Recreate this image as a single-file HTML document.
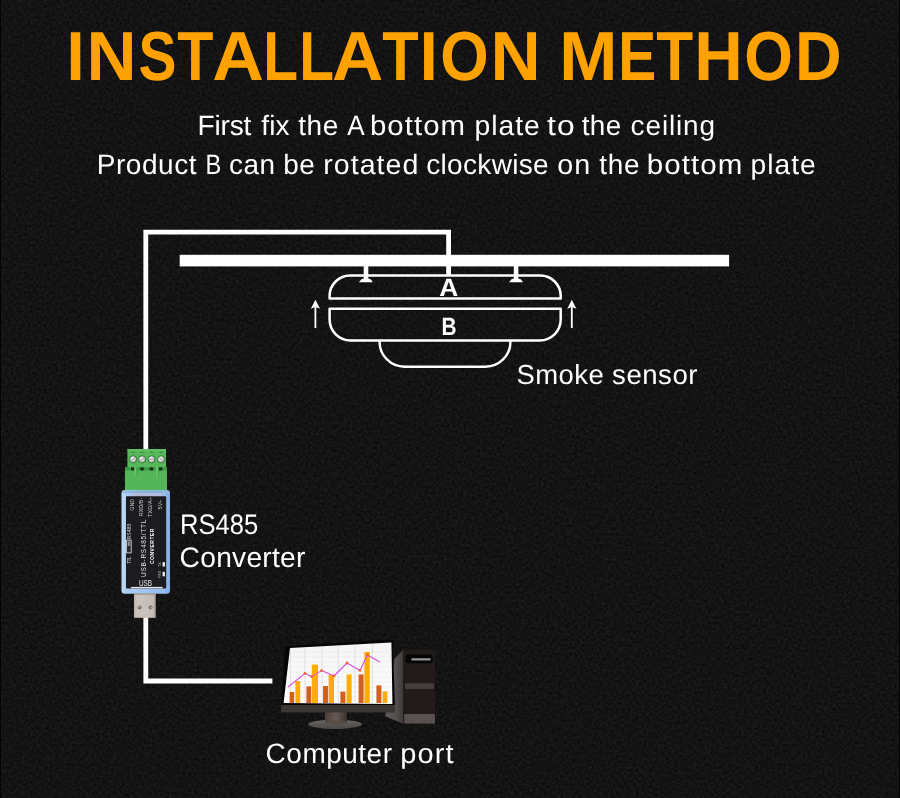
<!DOCTYPE html>
<html>
<head>
<meta charset="utf-8">
<title>Installation Method</title>
<style>
  html, body { margin: 0; padding: 0; }
  body {
    width: 900px; height: 798px; overflow: hidden; position: relative;
    background: #131313;
    font-family: "Liberation Sans", sans-serif;
    color: #ffffff;
  }
  .t {
    position: absolute; white-space: nowrap; margin: 0; padding: 0;
    transform-origin: 0 0;
    will-change: transform;
  }
  #title { left: 0; top: 21.6px; font-size: 69.4px; line-height: 69.4px; font-weight: bold; color: #ffa200; width: 900px; height: 70px; text-rendering: geometricPrecision; }
  #sub1  { left: 0; top: 111.65px; font-size: 28px; line-height: 28px; width: 900px; height: 28px; }
  #sub2  { left: 0; top: 150.8px; font-size: 28px; line-height: 28px; width: 900px; height: 28px; }
  #smoke { left: 0; top: 361.4px; font-size: 27.5px; line-height: 27.5px; width: 900px; height: 28px; }
  #rs    { left: 0; top: 510.3px; font-size: 28.2px; line-height: 28.2px; width: 900px; height: 29px; }
  #conv  { left: 0; top: 543.3px; font-size: 28.2px; line-height: 28.2px; width: 900px; height: 29px; }
  #comp  { left: 0; top: 740.4px; font-size: 28px; line-height: 28px; width: 900px; height: 28px; }
  #la    { left: 0; top: 276px; font-size: 25px; line-height: 25px; font-weight: bold; width: 900px; height: 25px; }
  #lb    { left: 0; top: 315px; font-size: 25px; line-height: 25px; font-weight: bold; width: 900px; height: 25px; }
  .w { position: absolute; left: 0; top: 0; display: block; white-space: nowrap; transform-origin: 0 0; }
  .line { text-rendering: geometricPrecision; }
  svg#art { position: absolute; left: 0; top: 0; will-change: transform; }
</style>
</head>
<body>
<svg id="art" width="900" height="798" viewBox="0 0 900 798">
  <defs>
    <filter id="grain" x="0" y="0" width="100%" height="100%" color-interpolation-filters="sRGB">
      <feTurbulence type="fractalNoise" baseFrequency="0.36" numOctaves="2" seed="7" result="n"/>
      <feColorMatrix type="matrix" values="0.115 0 0 0 0.019  0.115 0 0 0 0.019  0.115 0 0 0 0.019  0 0 0 0 1"/>
    </filter>
  </defs>
  <rect x="0" y="0" width="900" height="798" fill="#131313" filter="url(#grain)"/>
  <rect x="0" y="0" width="1" height="798" fill="#020202"/>
  <rect x="899" y="0" width="1" height="798" fill="#020202"/>
  <!-- wire -->
  <g id="wire" fill="none" stroke="#ffffff" stroke-width="4.8" stroke-linejoin="miter" stroke-linecap="butt">
    <path d="M145.8 450 V232.2 H448.6 V276"/>
    <path d="M145.8 617 V681 H272.4"/>
  </g>
  <!-- ceiling -->
  <rect id="ceiling" x="179.7" y="254.8" width="549.4" height="11.6" fill="#ffffff"/>
  <!-- SENSOR -->
  <g id="sensor">
    <g fill="none" stroke="#ffffff" stroke-width="2.5" stroke-linejoin="round">
      <!-- plate A -->
      <path d="M329.6 298.4 V296 A20.5 20.5 0 0 1 350.1 275.5 H540.2 A20.5 20.5 0 0 1 560.7 296 V298.4 Z"/>
      <!-- plate B -->
      <path d="M329.6 308.7 H560.7 V319.5 A21 21 0 0 1 539.7 340.5 H350.6 A21 21 0 0 1 329.6 319.5 Z"/>
      <!-- dome -->
      <path d="M379.6 341 V342 A25 24.7 0 0 0 404.6 366.7 H485.4 A25 24.7 0 0 0 510.4 342 V341" stroke-width="2.4"/>
    </g>
    <!-- screws -->
    <g fill="#ffffff">
      <rect x="363.7" y="266" width="4.6" height="13.5"/>
      <path d="M358.9 282.3 L360.6 280.2 Q361.6 278.8 363.2 278.8 H368.8 Q370.4 278.8 371.4 280.2 L372.9 282.3 Z"/>
      <rect x="513.8" y="266" width="4.6" height="13.5"/>
      <path d="M509 282.3 L510.7 280.2 Q511.7 278.8 513.3 278.8 H518.9 Q520.5 278.8 521.5 280.2 L523.2 282.3 Z"/>
      <!-- arrows -->
      <path d="M315.4 299.7 L320 308.8 L316.3 307.2 V328 H314.5 V307.2 L310.8 308.8 Z"/>
      <path d="M571.8 299.7 L576.4 308.8 L572.7 307.2 V328 H570.9 V307.2 L567.2 308.8 Z"/>
    </g>
  </g>
  <!-- CONVERTER -->
  <g id="converter">
    <defs>
      <linearGradient id="caseG" x1="0" y1="0" x2="1" y2="0">
        <stop offset="0" stop-color="#c2daf6"/>
        <stop offset="0.1" stop-color="#acccf2"/>
        <stop offset="0.88" stop-color="#95bbee"/>
        <stop offset="1" stop-color="#84abe2"/>
      </linearGradient>
      <radialGradient id="scr" cx="0.4" cy="0.4" r="0.7">
        <stop offset="0" stop-color="#f6f6f6"/>
        <stop offset="0.55" stop-color="#cfcfcf"/>
        <stop offset="1" stop-color="#8c8c8c"/>
      </radialGradient>
      <linearGradient id="usbG" x1="0" y1="0" x2="1" y2="0">
        <stop offset="0" stop-color="#b9b0a9"/>
        <stop offset="0.15" stop-color="#cbc3bc"/>
        <stop offset="0.85" stop-color="#c6bdb6"/>
        <stop offset="1" stop-color="#aaa29b"/>
      </linearGradient>
    </defs>
    <!-- green terminal: upper block -->
    <rect x="127.4" y="449.2" width="38.6" height="18.6" fill="#57b85b"/>
    <rect x="127.4" y="449.2" width="38.6" height="1.2" fill="#6cc870"/>
    <!-- lower block -->
    <rect x="125" y="467.4" width="42" height="22.8" fill="#55b659"/>
    <rect x="125" y="467.4" width="42" height="3.2" fill="#3f9a45"/>
    <!-- wire holes -->
    <g fill="#16301a">
      <rect x="131" y="467.2" width="3.6" height="3.2" rx="0.8"/>
      <rect x="140.2" y="467.2" width="3.6" height="3.2" rx="0.8"/>
      <rect x="149.6" y="467.2" width="3.6" height="3.2" rx="0.8"/>
      <rect x="158.8" y="467.2" width="3.6" height="3.2" rx="0.8"/>
    </g>
    <!-- ribs -->
    <rect x="134.2" y="466.5" width="2.4" height="10" rx="1" fill="#62c266"/>
    <rect x="136.6" y="467.5" width="0.8" height="8.5" fill="#3f9a45"/>
    <rect x="155.8" y="466.5" width="2.4" height="10" rx="1" fill="#62c266"/>
    <rect x="158.2" y="467.5" width="0.8" height="8.5" fill="#3f9a45"/>
    <!-- dashes above screws -->
    <g fill="#2f8236">
      <rect x="131.6" y="451.7" width="3" height="1"/>
      <rect x="140.6" y="451.7" width="3" height="1"/>
      <rect x="150.1" y="451.7" width="3" height="1"/>
      <rect x="159.6" y="451.7" width="3" height="1"/>
    </g>
    <!-- screws -->
    <g stroke="#2f7d36" stroke-width="1" fill="url(#scr)">
      <circle cx="133.1" cy="459.3" r="3.6"/>
      <circle cx="142.1" cy="459.3" r="3.6"/>
      <circle cx="151.6" cy="459.3" r="3.6"/>
      <circle cx="161.1" cy="459.3" r="3.6"/>
    </g>
    <g stroke="#8c8c8c" stroke-width="0.8" stroke-linecap="round">
      <path d="M131.2 460.6 L135 458"/>
      <path d="M140.2 460.6 L144 458"/>
      <path d="M149.4 459.6 L153.8 459"/>
      <path d="M159.6 457.6 L162.6 461"/>
    </g>
    <!-- translucent case -->
    <rect x="121.5" y="490" width="48.5" height="103.7" rx="3.2" fill="url(#caseG)"/>
    <rect x="122.3" y="490.6" width="46.9" height="3" rx="1.5" fill="#8fb9dd" opacity="0.9"/>
    <rect x="131.5" y="492.6" width="30.5" height="4.2" fill="#b3bcdc"/>
    <rect x="131.5" y="491" width="30.5" height="1.6" fill="#7aaed0" opacity="0.8"/>
    <!-- black label -->
    <rect x="126" y="496.2" width="40.2" height="92.4" rx="0.8" fill="#1b1b20"/>
    <!-- pin labels (rotated) -->
    <g font-family="'Liberation Sans', sans-serif" fill="#c6c6c6">
      <g transform="translate(134.0 498.8) rotate(-90) scale(0.46 0.5)"><text x="0" y="0" font-size="11.6" text-anchor="end">GND</text></g>
      <g transform="translate(143.0 497.8) rotate(-90) scale(0.47 0.5)"><text x="0" y="0" font-size="11.6" text-anchor="end">RXD/B-</text></g>
      <g transform="translate(152.3 497) rotate(-90) scale(0.49 0.5)"><text x="0" y="0" font-size="11.6" text-anchor="end">TXD/A+</text></g>
      <g transform="translate(161.8 499.4) rotate(-90) scale(0.48 0.5)"><text x="0" y="0" font-size="11.6" text-anchor="end">5V+</text></g>
    </g>
    <!-- main label text -->
    <g font-family="'Liberation Sans', sans-serif">
      <g transform="translate(146.1 577) rotate(-90) scale(0.41 0.5)"><text x="0" y="0" font-size="15.8" fill="#e2e2e2" textLength="140" lengthAdjust="spacing">USB-RS485/TTL</text></g>
      <g transform="translate(153.7 564) rotate(-90) scale(0.42 0.5)"><text x="0" y="0" font-size="11.8" font-weight="bold" fill="#ffffff" textLength="84.3" lengthAdjust="spacing">CONVERTER</text></g>
      <g transform="translate(131.1 539.6) rotate(-90) scale(0.5)"><text x="0" y="0" font-size="10.4" fill="#d8d8d8" textLength="32" lengthAdjust="spacingAndGlyphs">RS485</text></g>
      <g transform="translate(130.9 563.6) rotate(-90) scale(0.5)"><text x="0" y="0" font-size="10" fill="#d8d8d8" textLength="14.4" lengthAdjust="spacingAndGlyphs">TTL</text></g>
      <g transform="translate(161.2 578.2) rotate(-90) scale(0.5)"><text x="0" y="0" font-size="6.6" fill="#bdbdbd" textLength="15" lengthAdjust="spacingAndGlyphs">PWR</text></g>
      <g transform="translate(161.2 567) rotate(-90) scale(0.5)"><text x="0" y="0" font-size="6.6" fill="#bdbdbd" textLength="9.6" lengthAdjust="spacingAndGlyphs">TX</text></g>
      <g transform="translate(138.9 585.8) scale(0.5)"><text x="0" y="0" font-size="16.6" fill="#ececec" textLength="26.4" lengthAdjust="spacingAndGlyphs">USB</text></g>
    </g>
    <!-- switch -->
    <rect x="126.6" y="540.1" width="4.6" height="12.8" fill="#2a2a2e" stroke="#e4e4e4" stroke-width="0.8"/>
    <rect x="127.6" y="541.4" width="2.6" height="4.6" fill="#8a8a8a"/>
    <!-- LEDs -->
    <rect x="162.6" y="562.2" width="2.3" height="4.3" fill="#f4f4f4"/>
    <rect x="162.6" y="571.8" width="2.3" height="4.5" fill="#f4f4f4"/>
    <!-- white rule -->
    <rect x="131" y="586.9" width="31.6" height="1.4" fill="#e8e8ee"/>
    <!-- USB plug -->
    <rect x="134" y="593.6" width="21.7" height="24.2" fill="url(#usbG)"/>
    <rect x="134" y="593.6" width="21.7" height="1.2" fill="#a39b95"/>
    <circle cx="139.5" cy="607.4" r="1.9" fill="#6c6662"/>
    <circle cx="150.6" cy="607.4" r="1.9" fill="#6c6662"/>
    <circle cx="139.1" cy="607" r="0.8" fill="#d8d2cc"/>
    <circle cx="151" cy="607.8" r="0.8" fill="#d8d2cc"/>
  </g>
  <!-- COMPUTER -->
  <g id="computer">
    <defs>
      <linearGradient id="scrG" x1="0" y1="0" x2="0" y2="1">
        <stop offset="0" stop-color="#f4f4f4"/>
        <stop offset="1" stop-color="#ffffff"/>
      </linearGradient>
      <linearGradient id="baseG" x1="0" y1="0" x2="0" y2="1">
        <stop offset="0" stop-color="#6a6664"/>
        <stop offset="1" stop-color="#4a4644"/>
      </linearGradient>
      <linearGradient id="neckG" x1="0" y1="0" x2="1" y2="0">
        <stop offset="0" stop-color="#4a3f3b"/>
        <stop offset="0.5" stop-color="#6a5a54"/>
        <stop offset="1" stop-color="#3a312e"/>
      </linearGradient>
      <linearGradient id="sideG" x1="0" y1="0" x2="1" y2="0">
        <stop offset="0" stop-color="#5c5755"/>
        <stop offset="0.55" stop-color="#565150"/>
        <stop offset="1" stop-color="#3d3937"/>
      </linearGradient>
      <clipPath id="scrClip"><path d="M290 648 L391.4 642.6 L392.4 704 L283.6 703 Z"/></clipPath>
    </defs>
    <!-- tower side face -->
    <path d="M403.4 649.6 L394.6 658.5 L385.2 716.3 L403.4 724 Z" fill="url(#sideG)"/>
    <!-- tower front -->
    <rect x="403" y="650" width="32" height="74" rx="1" fill="#211c1a"/>
    <rect x="405.6" y="654.6" width="27" height="8.6" rx="2" fill="#050505"/>
    <rect x="411.2" y="658.2" width="19.6" height="2.2" rx="1.1" fill="#9a9694"/>
    <rect x="405" y="683.2" width="29" height="5.7" rx="0.6" fill="#433e3c"/>
    <rect x="404.2" y="714" width="30.8" height="9.6" rx="1" fill="#575250"/>
    <!-- monitor stand -->
    <ellipse cx="335" cy="724.3" rx="27" ry="4.7" fill="url(#baseG)"/>
    <rect x="325" y="711" width="22" height="11.5" fill="url(#neckG)"/>
    <ellipse cx="336" cy="722.5" rx="11" ry="2" fill="#5a4c47"/>
    <!-- monitor frame -->
    <path d="M285.4 646.2 L392.6 639.6 L395 705.5 L281 705.5 Z" fill="#060606"/>
    <path d="M281 705 H395 V711.6 Q395 712.4 394 712.4 H282 Q281 712.4 281 711.6 Z" fill="#3b3634"/>
    <!-- screen -->
    <path d="M290 648 L391.4 642.6 L392.4 704 L283.6 703 Z" fill="url(#scrG)"/>
    <g clip-path="url(#scrClip)">
      <!-- grid -->
      <g stroke="#e9e9e9" stroke-width="0.6">
        <path d="M284 652H393M284 657H393M284 662H393M284 667H393M284 672H393M284 677H393M284 682H393M284 687H393M284 692H393M284 697H393"/>
        <path d="M290.4 644V704M305 644V704M322 644V704M338.2 644V704M354.8 644V704M372.5 644V704" stroke="#d2d5db" stroke-width="0.7"/>
      </g>
      <!-- bars -->
      <g fill="#d2611e">
        <rect x="289.6" y="692" width="4.6" height="11"/>
        <rect x="306.4" y="686.4" width="4.8" height="16.6"/>
        <rect x="323" y="686" width="5" height="17"/>
        <rect x="340.4" y="691.6" width="5" height="11.4"/>
        <rect x="358.6" y="674.4" width="5" height="28.6"/>
        <rect x="376.4" y="685.4" width="5" height="17.6"/>
      </g>
      <g fill="#ffab0a">
        <rect x="295.4" y="681" width="4.8" height="22"/>
        <rect x="311.8" y="664.6" width="6.2" height="38.4"/>
        <rect x="328.6" y="675" width="5.4" height="28"/>
        <rect x="346.6" y="674.4" width="5" height="28.6"/>
        <rect x="364.4" y="652" width="5.4" height="51"/>
        <rect x="382.6" y="691.4" width="4.8" height="11.6"/>
      </g>
      <!-- line -->
      <path d="M288 687 L305 673.4 L311.6 676.6 L321.6 670.6 L334 676 L347 663 L360 670.4 L367.4 655 L380 662" fill="none" stroke="#d24fe0" stroke-width="1.1" stroke-linejoin="round"/>
      <g fill="#e8623a">
        <circle cx="305" cy="673.4" r="1.4"/><circle cx="311.6" cy="676.6" r="1.4"/><circle cx="321.6" cy="670.6" r="1.4"/>
        <circle cx="334" cy="676" r="1.4"/><circle cx="347" cy="663" r="1.4"/><circle cx="360" cy="670.4" r="1.4"/><circle cx="367.4" cy="655" r="1.4"/>
      </g>
    </g>
  </g>
</svg>

<div class="t line" id="title"><span class="w" style="transform:translateX(66.49px) scaleX(0.9400);">I</span><span class="w" style="transform:translateX(86.53px) scaleX(0.9994);">N</span><span class="w" style="transform:translateX(138.40px) scaleX(0.8200);">S</span><span class="w" style="transform:translateX(177.18px) scaleX(0.8543);">T</span><span class="w" style="transform:translateX(212.17px) scaleX(1.0293);">A</span><span class="w" style="transform:translateX(263.30px) scaleX(0.8200);">L</span><span class="w" style="transform:translateX(299.30px) scaleX(0.8200);">L</span><span class="w" style="transform:translateX(331.98px) scaleX(1.0228);">A</span><span class="w" style="transform:translateX(382.18px) scaleX(0.8592);">T</span><span class="w" style="transform:translateX(419.64px) scaleX(0.9302);">I</span><span class="w" style="transform:translateX(440.25px) scaleX(0.8979);">O</span><span class="w" style="transform:translateX(490.42px) scaleX(1.0018);">N</span> <span class="w" style="transform:translateX(559.30px) scaleX(1.0054);">M</span><span class="w" style="transform:translateX(618.23px) scaleX(0.8200);">E</span><span class="w" style="transform:translateX(656.37px) scaleX(0.8714);">T</span><span class="w" style="transform:translateX(694.17px) scaleX(0.9676);">H</span><span class="w" style="transform:translateX(744.24px) scaleX(0.9020);">O</span><span class="w" style="transform:translateX(794.94px) scaleX(0.9311);">D</span></div>
<div class="t line" id="sub1"><span class="w" style="letter-spacing:-0.21px;transform:translateX(197.54px) scaleX(1.0032);">First</span> <span class="w" style="letter-spacing:0.12px;transform:translateX(261.26px) scaleX(0.9995);">fix</span> <span class="w" style="letter-spacing:0.59px;transform:translateX(298.13px) scaleX(0.9990);">the</span> <span class="w" style="transform:translateX(347.18px) scaleX(0.9313);">A</span> <span class="w" style="letter-spacing:1.0px;transform:translateX(369.93px) scaleX(1.0496);">bottom</span> <span class="w" style="letter-spacing:1.0px;transform:translateX(474.47px) scaleX(1.0103);">plate</span> <span class="w" style="letter-spacing:1.0px;transform:translateX(546.98px) scaleX(1.1371);">to</span> <span class="w" style="letter-spacing:0.39px;transform:translateX(581.63px) scaleX(0.9945);">the</span> <span class="w" style="letter-spacing:0.86px;transform:translateX(630.61px) scaleX(0.9994);">ceiling</span></div>
<div class="t line" id="sub2"><span class="w" style="letter-spacing:0.54px;transform:translateX(96.74px) scaleX(1.0002);">Product</span> <span class="w" style="transform:translateX(205.50px) scaleX(0.8433);">B</span> <span class="w" style="letter-spacing:0.54px;transform:translateX(228.91px) scaleX(0.9961);">can</span> <span class="w" style="letter-spacing:0.48px;transform:translateX(283.32px) scaleX(0.9981);">be</span> <span class="w" style="letter-spacing:1.0px;transform:translateX(323.21px) scaleX(1.0208);">rotated</span> <span class="w" style="letter-spacing:0.34px;transform:translateX(426.21px) scaleX(0.9996);">clockwise</span> <span class="w" style="letter-spacing:1.0px;transform:translateX(557.20px) scaleX(1.0260);">on</span> <span class="w" style="letter-spacing:0.69px;transform:translateX(599.33px) scaleX(0.9978);">the</span> <span class="w" style="letter-spacing:1.0px;transform:translateX(646.82px) scaleX(1.0542);">bottom</span> <span class="w" style="letter-spacing:1.0px;transform:translateX(750.57px) scaleX(1.0070);">plate</span></div>
<div class="t line" id="smoke"><span class="w" style="letter-spacing:0.48px;transform:translateX(516.44px) scaleX(0.9990);">Smoke</span> <span class="w" style="letter-spacing:0.53px;transform:translateX(612.10px) scaleX(1.0019);">sensor</span></div>
<div class="t line" id="rs"><span class="w" style="transform:translateX(179.94px) scaleX(0.9071);">RS485</span></div>
<div class="t line" id="conv"><span class="w" style="letter-spacing:0.27px;transform:translateX(179.59px) scaleX(0.9994);">Converter</span></div>
<div class="t line" id="comp"><span class="w" style="letter-spacing:0.51px;transform:translateX(265.61px) scaleX(0.9987);">Computer</span> <span class="w" style="letter-spacing:1.0px;transform:translateX(400.31px) scaleX(1.0385);">port</span></div>
<div class="t line" id="la"><span class="w" style="transform:translateX(439.21px) scaleX(1.0534);">A</span></div>
<div class="t line" id="lb"><span class="w" style="transform:translateX(441.56px) scaleX(0.8332);">B</span></div>
</body>
</html>
